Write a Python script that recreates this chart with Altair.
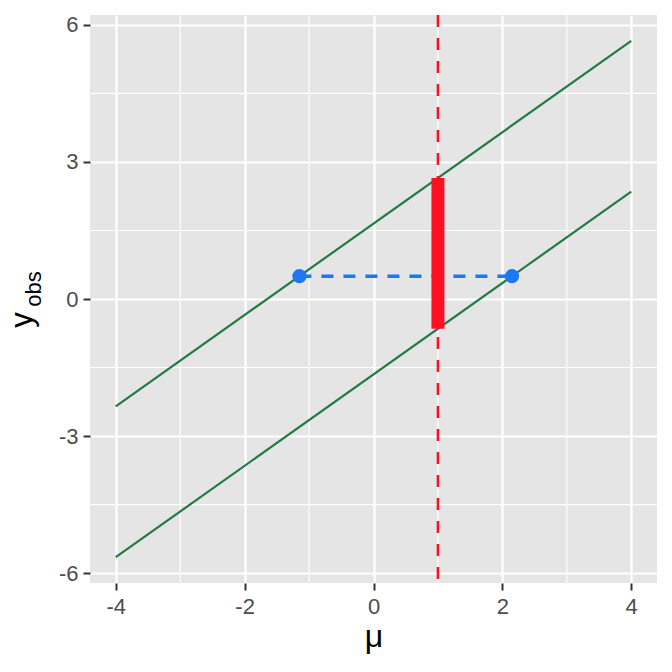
import altair as alt
import pandas as pd

# data
line_x = [-4, 4]
upper_y = [-2.35, 5.65]
lower_y = [-5.65, 2.35]
vline_x = [1]
bar_x = [1]
bar_lo = [-0.65]
bar_hi = [2.65]
pt_x = [-1.15, 2.15]
pt_y = [0.5, 0.5]
x_major = [-4, -2, 0, 2, 4]
x_minor = [-3, -1, 1, 3]
y_major = [-6, -3, 0, 3, 6]
y_minor = [-4.5, -1.5, 1.5, 4.5]

FONT = "Liberation Sans"
GREEN = "#237A45"
RED = "#FF1020"
BLUE = "#1E78F5"

xs = alt.Scale(domain=[-4.4, 4.4], nice=False, zero=False)
ys = alt.Scale(domain=[-6.215, 6.215], nice=False, zero=False)

axis_common = dict(
    gridColor="white", gridWidth=2.2, domain=False,
    tickColor="#333333", tickWidth=2, tickSize=7,
    labelFontSize=22, labelColor="#4D4D4D", labelFont=FONT,
    labelExpr="toString(datum.value)",
)
xaxis = alt.Axis(values=x_major, title="μ", titleFontSize=32, titleFont=FONT,
                 titleFontWeight="normal", titleColor="black", titlePadding=4,
                 labelPadding=6, **axis_common)
yaxis = alt.Axis(values=y_major, title=None, labelPadding=5, **axis_common)

def X(f="x"):
    return alt.X(f"{f}:Q", scale=xs, axis=xaxis)

def Y(f="y"):
    return alt.Y(f"{f}:Q", scale=ys, axis=yaxis)

minor_x_df = pd.DataFrame({"x": x_minor})
minor_y_df = pd.DataFrame({"y": y_minor})
minor_x = alt.Chart(minor_x_df).mark_rule(color="white", strokeWidth=1.1).encode(x=X())
minor_y = alt.Chart(minor_y_df).mark_rule(color="white", strokeWidth=1.1).encode(y=Y())

lines_df = pd.DataFrame({
    "x": line_x + line_x,
    "y": upper_y + lower_y,
    "g": ["upper"] * 2 + ["lower"] * 2,
})
lines = alt.Chart(lines_df).mark_line(color=GREEN, strokeWidth=2.2).encode(
    x=X(), y=Y(), detail="g:N")

vline = alt.Chart(pd.DataFrame({"x": vline_x})).mark_rule(
    color=RED, strokeWidth=2.5, strokeDash=[12, 11]).encode(x=X())

hdf = pd.DataFrame({"x": [pt_x[0]], "x2": [pt_x[1]], "y": [pt_y[0]]})
hline = alt.Chart(hdf).mark_rule(color=BLUE, strokeWidth=3.5, strokeDash=[12, 10]).encode(
    x=X(), x2="x2:Q", y=Y())

bdf = pd.DataFrame({"x": bar_x, "y": bar_lo, "y2": bar_hi})
bar = alt.Chart(bdf).mark_rule(color=RED, strokeWidth=13, strokeCap="butt").encode(
    x=X(), y=Y(), y2="y2:Q")

pts = alt.Chart(pd.DataFrame({"x": pt_x, "y": pt_y})).mark_circle(
    color=BLUE, size=200, opacity=1).encode(x=X(), y=Y())

ytitle_y = alt.Chart(pd.DataFrame({"t": ["y"]})).mark_text(
    angle=270, fontSize=31, font=FONT, color="black", align="center", baseline="middle"
).encode(text="t:N", x=alt.value(-67), y=alt.value(305))
ytitle_obs = alt.Chart(pd.DataFrame({"t": ["obs"]})).mark_text(
    angle=270, fontSize=22, font=FONT, color="black", align="center", baseline="middle"
).encode(text="t:N", x=alt.value(-56.5), y=alt.value(274))

chart = alt.layer(minor_x, minor_y, lines, vline, hline, bar, pts, ytitle_y, ytitle_obs).properties(
    width=567, height=568,
    autosize=alt.AutoSizeParams(type="none"),
    padding={"left": 82, "top": 7, "right": 7, "bottom": 80},
).configure_view(fill="#E5E5E5", stroke=None)

chart.save("out.html", embed_options={"renderer": "svg", "actions": False})
